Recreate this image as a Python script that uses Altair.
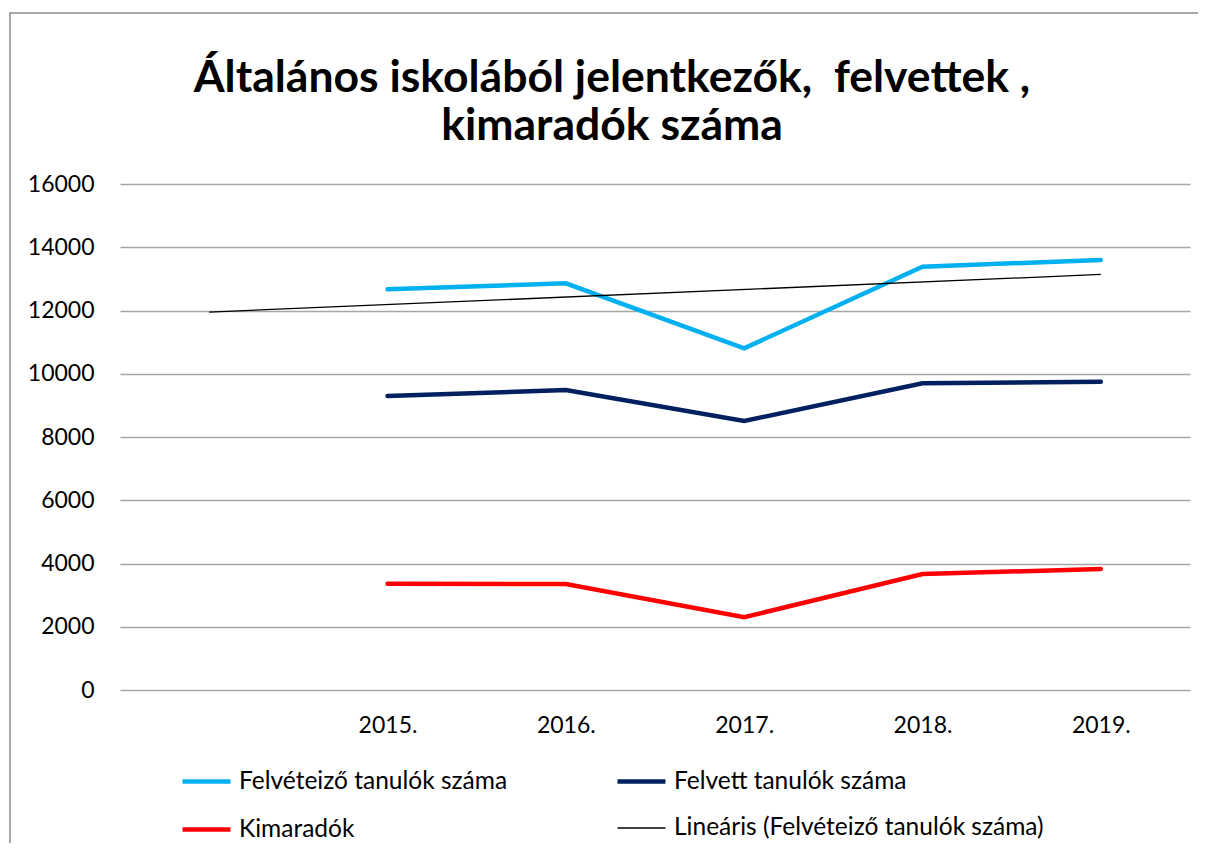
import json
import altair as alt
import pandas as pd

# ---- data ----
years = ["2015.", "2016.", "2017.", "2018.", "2019."]
year_pos = [2, 3, 4, 5, 6]          # position 1 is an empty category
felveteizo = [12670, 12860, 10805, 13385, 13597]
felvett = [9297, 9486, 8506, 9697, 9750]
kimaradok = [3360, 3350, 2300, 3668, 3826]

series_names = [
    "Felvéteiző tanulók száma",
    "Felvett tanulók száma",
    "Kimaradók",
    "Lineáris (Felvéteiző tanulók száma)",
]
series_colors = ["#00b0f0", "#002060", "#ff0000", "#000000"]
series_widths = [4.5, 4.5, 4.5, 1.3]
y_ticks = [0, 2000, 4000, 6000, 8000, 10000, 12000, 14000, 16000]
title_lines = ["Általános iskolából jelentkezők,\u00a0 felvettek ,", "kimaradók száma"]

rows = []
for name, vals in zip(series_names[:3], [felveteizo, felvett, kimaradok]):
    for p, v in zip(year_pos, vals):
        rows.append({"pos": p, "value": v, "series": name})
df = pd.DataFrame(rows)

FONT = "Lato"
labels_js = json.dumps(["", ""] + years)

x_enc = alt.X(
    "pos:Q",
    scale=alt.Scale(domain=[0.5, 6.5], nice=False, zero=False),
    axis=alt.Axis(
        values=year_pos, labelExpr=f"{labels_js}[datum.value]", title=None,
        grid=False, domain=False, ticks=False, labelPadding=24,
        labelFontSize=23, labelFont=FONT, labelColor="#000000",
    ),
)
y_enc = alt.Y(
    "value:Q",
    scale=alt.Scale(domain=[0, 16000], nice=False),
    axis=alt.Axis(
        values=y_ticks, format="d", title=None, grid=True, gridColor="#a6a6a6",
        gridWidth=1.3, domain=False, ticks=False, labelPadding=26,
        labelFontSize=23, labelFont=FONT, labelColor="#000000",
    ),
)
trend_js = json.dumps(series_names[3])
legend_kw = dict(
    title=None, orient="none", legendX=60, legendY=571, columns=2,
    direction="horizontal",
    symbolType="stroke", symbolSize=2300, labelFontSize=24.5, labelFont=FONT,
    labelColor="#000000", labelOffset=6, rowPadding=10, columnPadding=100,
    labelLimit=600,
)
color_enc = alt.Color(
    "series:N",
    scale=alt.Scale(domain=series_names, range=series_colors),
    legend=alt.Legend(**legend_kw),
)
sw_enc = alt.StrokeWidth(
    "series:N",
    scale=alt.Scale(type="ordinal", domain=series_names, range=series_widths),
    legend=alt.Legend(**legend_kw),
)

lines = alt.Chart(df).mark_line(strokeCap="round").encode(
    x=x_enc, y=y_enc, color=color_enc, strokeWidth=sw_enc
)

trend = (
    alt.Chart(df[df["series"] == series_names[0]])
    .transform_regression("pos", "value", extent=[1, 6])
    .transform_calculate(series=f"{trend_js}")
    .mark_line()
    .encode(x=x_enc, y=y_enc, color=color_enc, strokeWidth=sw_enc)
)

frame = alt.Chart(pd.DataFrame({"a": [0]})).mark_rect(
    fill="transparent", stroke="#8c8c8c", strokeWidth=1.5
).encode(
    x=alt.value(-110), x2=alt.value(1300), y=alt.value(-171), y2=alt.value(900)
)

title1 = alt.Chart(pd.DataFrame({"a": [0]})).mark_text(
    text=title_lines[0], font=FONT, fontSize=44.5, fontWeight="bold",
    color="#000000", align="center", baseline="alphabetic",
).encode(x=alt.value(492), y=alt.value(-92))
title2 = alt.Chart(pd.DataFrame({"a": [0]})).mark_text(
    text=title_lines[1], font=FONT, fontSize=44.5, fontWeight="bold",
    color="#000000", align="center", baseline="alphabetic",
).encode(x=alt.value(492), y=alt.value(-44))

chart = (
    alt.layer(frame, title1, title2, lines, trend)
    .properties(
        width=1070,
        height=506,
        padding={"left": 112, "top": 176, "right": 8, "bottom": 153},
        autosize=alt.AutoSizeParams(type="none"),
    )
    .configure_view(stroke=None)
)

chart.save("out.html", embed_options={"renderer": "svg", "actions": False})
